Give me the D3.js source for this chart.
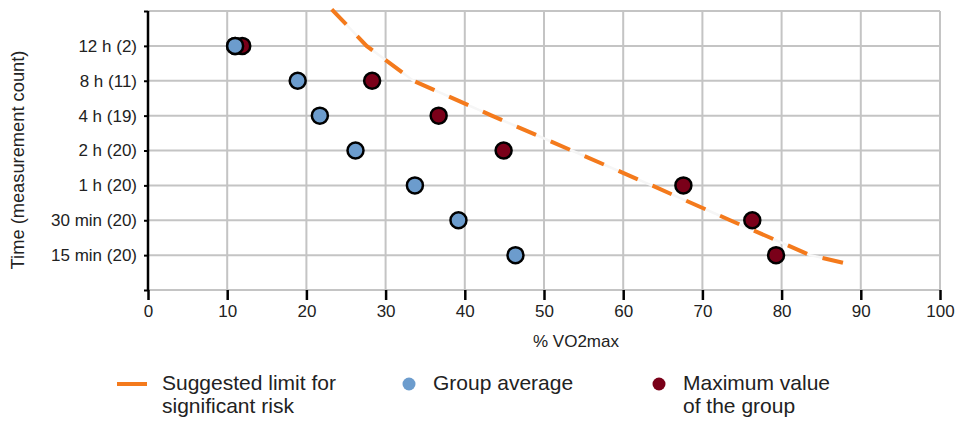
<!DOCTYPE html>
<html>
<head>
<meta charset="utf-8">
<script src="https://cdn.jsdelivr.net/npm/d3@7"></script>
<style>
  body { margin: 0; background: #fff; }
  text { font-family: "Liberation Sans", Arial, sans-serif; fill: #222; }
</style>
</head>
<body>
<svg id="chart" width="957" height="421"></svg>
<script>
// categories from top to bottom (index 1..7 on the y scale)
const categories = ["12 h (2)", "8 h (11)", "4 h (19)", "2 h (20)", "1 h (20)", "30 min (20)", "15 min (20)"];
const groupAverage = [11.0, 18.9, 21.7, 26.2, 33.7, 39.2, 46.4];
const groupMax = [11.9, 28.3, 36.7, 44.9, 67.6, 76.3, 79.3];
// suggested limit line: [x value, y position in category units]
const limitX = [23.2, 27.6, 33.5, 43.4, 53.5, 63.6, 73.5, 83.6, 87.8];
const limitY = [-0.05, 1, 2, 3, 4, 5, 6, 7, 7.22];
const xTicks = [0, 10, 20, 30, 40, 50, 60, 70, 80, 90, 100];

const svg = d3.select("#chart");

const x = d3.scaleLinear().domain([0, 100]).range([148, 940]);
const y = d3.scaleLinear().domain([0, 8]).range([11, 290]);

const gridColor = "#c4c4c4";

// gridlines
svg.append("g").selectAll("line").data(xTicks.slice(1)).join("line")
  .attr("x1", d => x(d)).attr("x2", d => x(d))
  .attr("y1", y(0)).attr("y2", y(8))
  .attr("stroke", gridColor).attr("stroke-width", 2);

svg.append("g").selectAll("line").data(d3.range(0, 9)).join("line")
  .attr("x1", x(0)).attr("x2", x(100))
  .attr("y1", d => y(d)).attr("y2", d => y(d))
  .attr("stroke", gridColor).attr("stroke-width", 2);

// x axis ticks + labels
const xAxis = svg.append("g")
  .attr("transform", `translate(0,${y(8)})`)
  .call(d3.axisBottom(x).tickValues(xTicks).tickSize(10).tickPadding(5));
xAxis.select(".domain").remove();
xAxis.selectAll(".tick line").attr("stroke", "#000").attr("stroke-width", 2.5);
xAxis.selectAll(".tick text")
  .style("font-family", "Liberation Sans, Arial, sans-serif")
  .style("font-size", "17px").attr("fill", "#222");

// y axis
const yAxis = svg.append("g")
  .attr("transform", `translate(${x(0)},0)`)
  .call(d3.axisLeft(y).tickValues(d3.range(0, 9)).tickSize(4).tickPadding(7)
    .tickFormat(d => categories[d - 1] || ""));
yAxis.select(".domain").attr("stroke", "#000").attr("stroke-width", 2.5)
  .attr("d", `M0,${y(0)}V${y(8)}`);
yAxis.selectAll(".tick line").attr("stroke", "#000").attr("stroke-width", 2);
yAxis.selectAll(".tick text")
  .style("font-family", "Liberation Sans, Arial, sans-serif")
  .style("font-size", "17px").attr("fill", "#222");

// suggested limit line
const limitPts = limitX.map((v, i) => [v, limitY[i]]);
const line = d3.line().x(d => x(d[0])).y(d => y(d[1]));
svg.append("path").datum(limitPts)
  .attr("d", line).attr("fill", "none")
  .attr("stroke", "#f6f6f6").attr("stroke-width", 2.5);
svg.append("path").datum(limitPts)
  .attr("d", line).attr("fill", "none")
  .attr("stroke", "#f47a1c").attr("stroke-width", 4)
  .attr("stroke-dasharray", "21,16");

// markers
const blue = "#6c9ccd", red = "#7a0019";
svg.append("g").selectAll("circle").data(groupAverage).join("circle")
  .attr("cx", d => x(d)).attr("cy", (d, i) => y(i + 1)).attr("r", 8)
  .attr("fill", blue).attr("stroke", "#000").attr("stroke-width", 2.5);
svg.append("g").selectAll("circle").data(groupMax).join("circle")
  .attr("cx", d => x(d)).attr("cy", (d, i) => y(i + 1)).attr("r", 8)
  .attr("fill", red).attr("stroke", "#000").attr("stroke-width", 2.5);
// average drawn on top where they overlap (12 h)
svg.append("circle")
  .attr("cx", x(groupAverage[0])).attr("cy", y(1)).attr("r", 8)
  .attr("fill", blue).attr("stroke", "#000").attr("stroke-width", 2.5);

// axis titles
svg.append("text")
  .attr("transform", "translate(24,160) rotate(-90)")
  .attr("text-anchor", "middle").style("font-size", "18.3px")
  .text("Time (measurement count)");
svg.append("text")
  .attr("x", 533).attr("y", 347)
  .style("font-size", "17px")
  .text("% VO2max");

// legend
const lg = svg.append("g").style("font-size", "21px");
lg.append("line").attr("x1", 117).attr("x2", 147).attr("y1", 384).attr("y2", 384)
  .attr("stroke", "#f47a1c").attr("stroke-width", 4);
lg.append("text").attr("x", 162).attr("y", 390).text("Suggested limit for");
lg.append("text").attr("x", 162).attr("y", 413).text("significant risk");
lg.append("circle").attr("cx", 409).attr("cy", 384).attr("r", 6.5).attr("fill", blue);
lg.append("text").attr("x", 433).attr("y", 390).text("Group average");
lg.append("circle").attr("cx", 659).attr("cy", 384).attr("r", 6.5).attr("fill", red);
lg.append("text").attr("x", 683).attr("y", 390).text("Maximum value");
lg.append("text").attr("x", 683).attr("y", 413).text("of the group");
</script>
</body>
</html>
